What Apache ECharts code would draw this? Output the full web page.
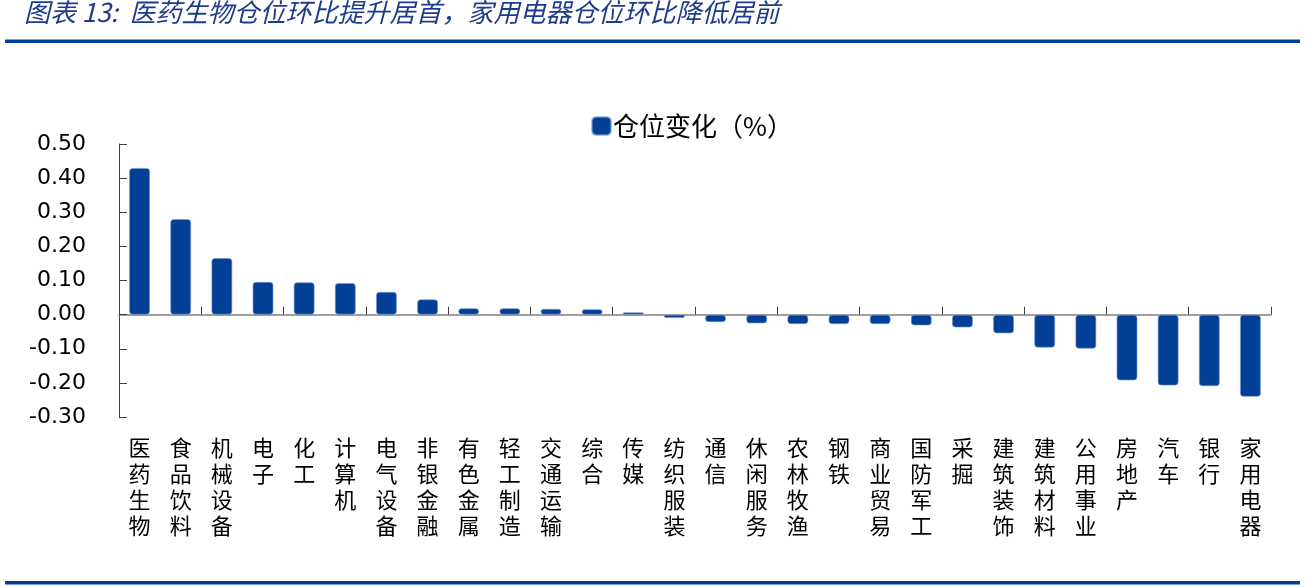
<!DOCTYPE html>
<html>
<head>
<meta charset="utf-8">
<script src="https://cdn.jsdelivr.net/npm/echarts@6/dist/echarts.min.js"></script>
<style>
html,body{margin:0;padding:0;background:#fff;}
#chart{width:1307px;height:587px;}
</style>
</head>
<body>
<div id="chart"></div>
<script>
const categories = ['医药生物','食品饮料','机械设备','电子','化工','计算机','电气设备','非银金融','有色金属','轻工制造','交通运输','综合','传媒','纺织服装','通信','休闲服务','农林牧渔','钢铁','商业贸易','国防军工','采掘','建筑装饰','建筑材料','公用事业','房地产','汽车','银行','家用电器'];
const positionChange = [0.43,0.28,0.166,0.096,0.095,0.093,0.067,0.045,0.019,0.019,0.017,0.016,0.007,-0.01,-0.022,-0.026,-0.028,-0.028,-0.028,-0.032,-0.038,-0.055,-0.097,-0.1,-0.193,-0.208,-0.21,-0.241];
const seriesName = '仓位变化（%）';
const titleText = '图表 13:  医药生物仓位环比提升居首，家用电器仓位环比降低居前';
const yTicks = {min:-0.3, max:0.5, interval:0.1};

const chart = echarts.init(document.getElementById('chart'));
const blue = '#023f97';
chart.setOption({
  animation:false,
  backgroundColor:'#fff',
  title:{
    text:titleText, left:24, top:-1, padding:[0,0,0,0],
    textStyle:{fontFamily:'Noto Sans CJK SC', fontSize:26, fontStyle:'italic', fontWeight:'normal', color:'#1e3c8c'}
  },
  graphic:[
    {type:'rect', shape:{x:5,y:39.5,width:1295,height:3.5}, style:{fill:'#003f98'}},
    {type:'rect', shape:{x:5,y:581,width:1295,height:3.5}, style:{fill:'#003f98'}}
  ],
  legend:{
    left:591, top:113, padding:0, itemWidth:19, itemHeight:18, itemGap:10,
    icon:'roundRect',
    textStyle:{fontFamily:'Noto Sans CJK SC', fontSize:26, color:'#000', padding:[0,0,0,-3]},
    data:[seriesName]
  },
  grid:{left:119, top:144, width:1152, height:273, containLabel:false},
  xAxis:[
    {
      type:'category', data:categories, position:'bottom',
      axisLine:{show:false, onZero:false}, axisTick:{show:false},
      axisLabel:{
        interval:0, margin:18,
        fontFamily:'Noto Sans CJK SC', fontSize:22, lineHeight:26, color:'#000',
        verticalAlign:'top',
        formatter:v=>v.split('').join('\n')
      }
    },
    {
      type:'category', data:categories, position:'bottom',
      axisLine:{show:true, onZero:true, lineStyle:{color:'#808080', width:1.5}},
      axisTick:{show:true, inside:true, length:8, lineStyle:{color:'#404040', width:1}},
      axisLabel:{show:false}
    }
  ],
  yAxis:{
    type:'value', min:yTicks.min, max:yTicks.max, interval:yTicks.interval,
    splitLine:{show:false},
    axisLine:{show:true, lineStyle:{color:'#404040', width:1}},
    axisTick:{show:true, inside:true, length:8, lineStyle:{color:'#404040'}},
    axisLabel:{
      margin:33, fontFamily:'DejaVu Sans', fontSize:22, color:'#000',
      formatter:v=>v.toFixed(2)
    }
  },
  series:[{
    name:seriesName, type:'bar', xAxisIndex:1, data:positionChange,
    barWidth:21,
    itemStyle:{color:blue, borderRadius:3, borderColor:'rgba(120,150,210,0.6)', borderWidth:1}
  }]
});
</script>
</body>
</html>
